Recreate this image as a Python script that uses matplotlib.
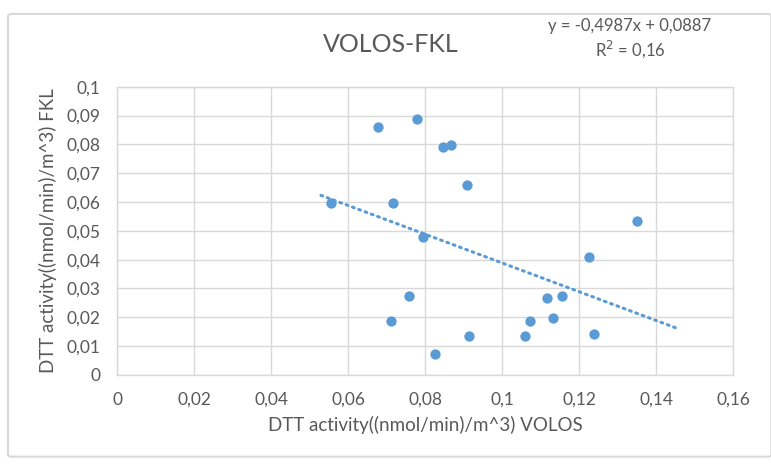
import numpy as np
import matplotlib
matplotlib.use('Agg')
from matplotlib import pyplot as plt
from matplotlib.patches import FancyBboxPatch

# values
volos = [0.0676, 0.0779, 0.0846, 0.0868, 0.0909, 0.0556, 0.0716, 0.0794, 0.0759, 0.0712,
         0.0914, 0.0826, 0.1350, 0.1225, 0.1117, 0.1154, 0.1071, 0.1132, 0.1058, 0.1237]
fkl = [0.0859, 0.0888, 0.0790, 0.0798, 0.0658, 0.0596, 0.0596, 0.0478, 0.0275, 0.0186,
       0.0136, 0.0074, 0.0533, 0.0408, 0.0268, 0.0275, 0.0186, 0.0199, 0.0136, 0.0143]

slope = -0.4987
intercept = 0.0887
trend_x = [0.0529, 0.1452]

x_ticks = [0, 0.02, 0.04, 0.06, 0.08, 0.1, 0.12, 0.14, 0.16]
y_ticks = [0, 0.01, 0.02, 0.03, 0.04, 0.05, 0.06, 0.07, 0.08, 0.09, 0.1]

text_col = '#595959'
grid_col = '#D9D9D9'
blue = '#5B9BD5'

plt.rcParams['font.family'] = ['Lato', 'DejaVu Sans']

fig = plt.figure(figsize=(7.71, 4.66), dpi=100)

# chart border
fig.patches.append(FancyBboxPatch((8 / 771, 0.02), 0.99, 0.95, boxstyle='round,pad=0,rounding_size=0.005',
                                  transform=fig.transFigure, fill=False, edgecolor=grid_col, linewidth=1.5))

ax = fig.add_axes([0.1521, 0.1953, 0.799, 0.6187])

ax.grid(True, color=grid_col, linewidth=1.0)
ax.set_axisbelow(True)
for s in ax.spines.values():
    s.set_color(grid_col)
    s.set_linewidth(1.0)

ax.scatter(volos, fkl, s=55, color=blue, zorder=3, linewidths=0)

tx = np.array(trend_x)
ax.plot(tx, slope * tx + intercept, color=blue, linewidth=2.2,
        linestyle=(0, (0.6, 1.6)), dash_capstyle='round', zorder=2)

ax.set_xlim(0, 0.16)
ax.set_ylim(0, 0.1)
ax.set_xticks(x_ticks)
ax.set_yticks(y_ticks)
ax.set_xticklabels([('%g' % v).replace('.', ',') for v in x_ticks])
ax.set_yticklabels([('%g' % v).replace('.', ',') for v in y_ticks])
ax.tick_params(length=0, colors=text_col, labelsize=12.5, pad=12)

ax.set_xlabel('DTT activity((nmol/min)/m^3) VOLOS', color=text_col, fontsize=13.5, labelpad=6)
ax.set_ylabel('DTT activity((nmol/min)/m^3) FKL', color=text_col, fontsize=13.5, labelpad=7)

fig.text(391 / 771, 1 - 44 / 466, 'VOLOS-FKL', ha='center', va='center', color=text_col, fontsize=18)
fig.text(630 / 771, 1 - 39 / 466, 'y = -0,4987x + 0,0887\nR$^2$ = 0,16', ha='center', va='center',
         color=text_col, fontsize=12, linespacing=1.25)

plt.savefig('out.png', dpi=100)
plt.close()
